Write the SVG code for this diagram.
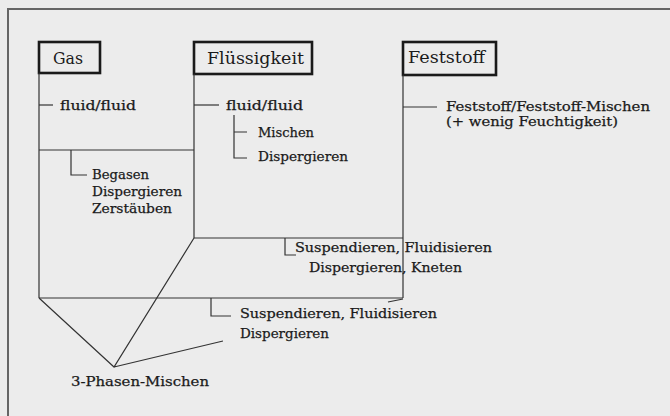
<svg xmlns="http://www.w3.org/2000/svg" width="670" height="416" viewBox="0 0 670 416">
<style>
.bg{fill:#ececec}
.frame{stroke:#666;stroke-width:2;fill:none}
.box{fill:none;stroke:#1a1a1a;stroke-width:2.6}
.ln{stroke:#333;stroke-width:1.2;fill:none}
.t{font-family:"DejaVu Serif","Liberation Serif",serif;font-size:13px;fill:#1a1a1a;stroke:#1a1a1a;stroke-width:0.25}
.h{font-family:"DejaVu Serif","Liberation Serif",serif;font-size:16px;fill:#1a1a1a}
</style>
<rect class="bg" x="0" y="0" width="670" height="416"/>
<path class="frame" d="M8,416 V9 H670"/>
<g id="gas">
<rect class="box" x="39" y="42" width="61" height="31"/>
<text class="h" x="53" y="64" textLength="30" lengthAdjust="spacingAndGlyphs">Gas</text>
</g>
<g id="fluessigkeit">
<rect class="box" x="194" y="42" width="118" height="32"/>
<text class="h" x="207" y="64" textLength="97" lengthAdjust="spacingAndGlyphs">Flüssigkeit</text>
</g>
<g id="feststoff">
<rect class="box" x="403" y="42" width="93" height="33"/>
<text class="h" x="408" y="63" textLength="77" lengthAdjust="spacingAndGlyphs">Feststoff</text>
</g>
<g id="connectors">
<line class="ln" x1="39" y1="73" x2="39" y2="298"/>
<line class="ln" x1="194" y1="74" x2="194" y2="238"/>
<line class="ln" x1="403" y1="75" x2="403" y2="298"/>
<line class="ln" x1="39" y1="150" x2="194" y2="150"/>
<line class="ln" x1="194" y1="238" x2="403" y2="238"/>
<line class="ln" x1="39" y1="298" x2="403" y2="298"/>
<line class="ln" x1="388" y1="302" x2="403" y2="299"/>
<line class="ln" x1="39" y1="105" x2="53" y2="105"/>
<line class="ln" x1="194" y1="105" x2="219" y2="105"/>
<path class="ln" d="M234,115 V158 H247 M234,132 H247"/>
<path class="ln" d="M71,150 V175 H87"/>
<line class="ln" x1="403" y1="107" x2="437" y2="107"/>
<path class="ln" d="M285,238 V255 H296"/>
<path class="ln" d="M211,298 V316 H231"/>
<path class="ln" d="M39,298 L114,367 L194,238 M114,367 L223,341"/>
</g>
<g id="labels">
<text class="t" x="60" y="110" textLength="76" lengthAdjust="spacingAndGlyphs">fluid/fluid</text>
<text class="t" x="226" y="110" textLength="77" lengthAdjust="spacingAndGlyphs">fluid/fluid</text>
<text class="t" x="258" y="137" textLength="56" lengthAdjust="spacingAndGlyphs">Mischen</text>
<text class="t" x="258" y="161" textLength="90" lengthAdjust="spacingAndGlyphs">Dispergieren</text>
<text class="t" x="92" y="179" textLength="57" lengthAdjust="spacingAndGlyphs">Begasen</text>
<text class="t" x="92" y="196" textLength="90" lengthAdjust="spacingAndGlyphs">Dispergieren</text>
<text class="t" x="92" y="213" textLength="80" lengthAdjust="spacingAndGlyphs">Zerstäuben</text>
<text class="t" x="446" y="111" textLength="204" lengthAdjust="spacingAndGlyphs">Feststoff/Feststoff-Mischen</text>
<text class="t" x="446" y="126" textLength="172" lengthAdjust="spacingAndGlyphs">(+ wenig Feuchtigkeit)</text>
<text class="t" x="295" y="252" textLength="197" lengthAdjust="spacingAndGlyphs">Suspendieren, Fluidisieren</text>
<text class="t" x="309" y="272" textLength="153" lengthAdjust="spacingAndGlyphs">Dispergieren, Kneten</text>
<text class="t" x="240" y="318" textLength="197" lengthAdjust="spacingAndGlyphs">Suspendieren, Fluidisieren</text>
<text class="t" x="240" y="338" textLength="89" lengthAdjust="spacingAndGlyphs">Dispergieren</text>
<text class="t" x="71" y="386" textLength="138" lengthAdjust="spacingAndGlyphs">3-Phasen-Mischen</text>
</g>
</svg>
